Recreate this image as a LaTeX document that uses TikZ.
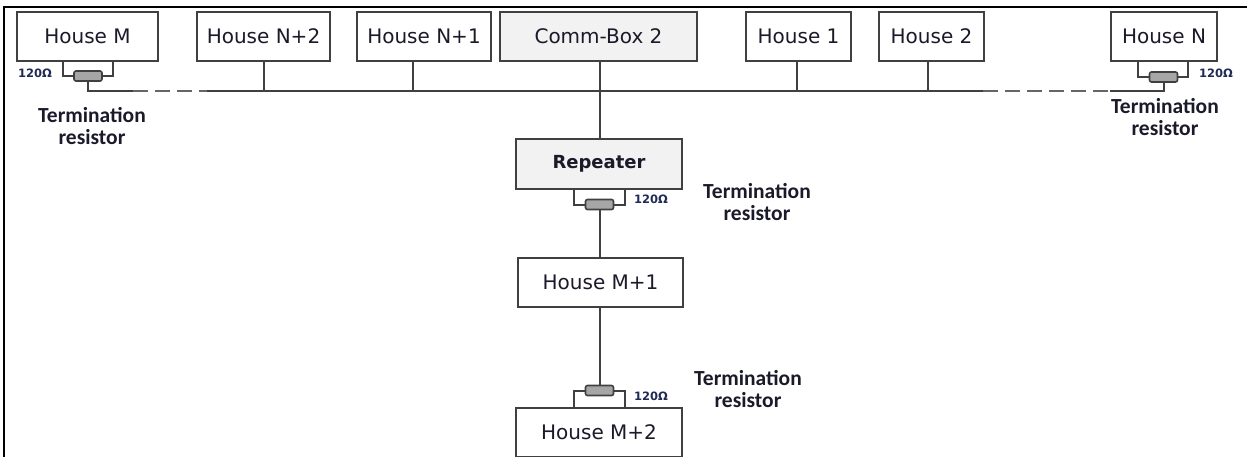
\documentclass[tikz,border=0pt]{standalone}
\usepackage{fontspec}
\setmainfont{DejaVu Sans}
\newfontfamily\labfont{Carlito}
\newfontfamily\ohmfont{DejaVu Sans}
\definecolor{edge}{HTML}{404040}
\definecolor{boxgray}{HTML}{F2F2F2}
\definecolor{resgray}{HTML}{A6A6A6}
\definecolor{txt}{HTML}{1A1A2A}
\definecolor{ohmblue}{HTML}{1F2A55}
\begin{document}
\begin{tikzpicture}[x=1pt,y=-1pt,
  house/.style={draw=edge,line width=2pt,fill=white,minimum height=49pt,inner sep=0pt,
     font=\fontsize{20}{22}\selectfont,text=txt},
  graybox/.style={house,fill=boxgray},
  wire/.style={draw=edge,line width=2pt},
  dwire/.style={draw=edge!80,line width=2pt,dash pattern=on 15pt off 7pt},
  resbox/.style={draw=edge,line width=1.6pt,fill=resgray,rounded corners=2pt,
     minimum width=28pt,minimum height=10pt,inner sep=0pt},
  ohm/.style={font=\ohmfont\bfseries\fontsize{11.5}{13}\selectfont,text=ohmblue,inner sep=0pt},
  term/.style={font=\labfont\bfseries\fontsize{21.5}{22}\selectfont,text=txt,align=center,inner sep=0pt}
]
\useasboundingbox (0,0) rectangle (1247,456);
% frame
\draw[black,line width=2.4pt] (4,460) -- (4,7) -- (1250,7);

% top row
\node[house,minimum width=141pt] (hm)  at (87.5,36.5) {House M};
\node[house,minimum width=133pt] (hn2) at (263.5,36.5) {House N+2};
\node[house,minimum width=134pt] (hn1) at (424,36.5) {House N+1};
\node[graybox,minimum width=197pt] (cb) at (598.5,36.5) {Comm-Box 2};
\node[house,minimum width=105pt] (h1) at (798.5,36.5) {House 1};
\node[house,minimum width=105pt] (h2) at (931.5,36.5) {House 2};
\node[house,minimum width=106pt] (hn) at (1164,36.5) {House N};

% column
\node[graybox,minimum width=166pt,minimum height=50pt,font=\bfseries\fontsize{18}{20}\selectfont] (rep) at (599,164) {Repeater};
\node[house,minimum width=165pt] (hm1) at (600.5,282.5) {House M+1};
\node[house,minimum width=166pt] (hm2) at (599,432.5) {House M+2};

% resistors
\node[resbox] (rm)  at (88,76) {};
\node[resbox] (rn)  at (1163.5,77) {};
\node[resbox] (rr)  at (599.5,204.5) {};
\node[resbox] (rm2) at (599.5,390.5) {};

% bus coordinates
\coordinate (b0) at (88,91);
\coordinate (b1) at (133,91);
\coordinate (b2) at (207,91);
\coordinate (b3) at (983,91);
\coordinate (b4) at (1110,91);
\coordinate (b5) at (1163.5,91);

% bus
\draw[wire] (rm.south) -- (b0) -- (b1);
\draw[dwire] (b1) -- (b2);
\draw[wire] (b2) -- (b3);
\draw[dwire] (b3) -- (b4);
\draw[wire] (b4) -- (b5) -- (rn.south);

% drops
\draw[wire] (hn2.south) -- (hn2.south |- b2);
\draw[wire] ([xshift=-11pt]hn1.south) -- ([xshift=-11pt]hn1.south |- b2);
\draw[wire] ([xshift=1.5pt]cb.south) -- ([xshift=1pt]rep.north);
\draw[wire] ([xshift=-1.5pt]h1.south) -- ([xshift=-1.5pt]h1.south |- b2);
\draw[wire] ([xshift=-3.5pt]h2.south) -- ([xshift=-3.5pt]h2.south |- b2);

% termination loops
\draw[wire] ([xshift=-24.5pt]hm.south) |- (rm.west);
\draw[wire] ([xshift=25.5pt]hm.south) |- (rm.east);
\draw[wire] ([xshift=-26pt]hn.south) |- (rn.west);
\draw[wire] ([xshift=24pt]hn.south) |- (rn.east);
\draw[wire] ([xshift=-25pt]rep.south) |- (rr.west);
\draw[wire] ([xshift=26pt]rep.south) |- (rr.east);
\draw[wire] ([xshift=-25pt]hm2.north) |- (rm2.west);
\draw[wire] ([xshift=26pt]hm2.north) |- (rm2.east);

% vertical chain
\draw[wire] (rr.south) -- (rr.south |- hm1.north);
\draw[wire] (hm1.south -| rm2.north) -- (rm2.north);

% labels
\node[ohm] (om)  at (35,73) {120Ω};
\node[ohm] (on)  at (1216,73) {120Ω};
\node[ohm] (or)  at (651,199) {120Ω};
\node[ohm] (om2) at (651,396) {120Ω};

\node[term] (tm)  at (92,126) {Termination\\resistor};
\node[term] (tn)  at (1165,117) {Termination\\resistor};
\node[term] (tr)  at (757,202) {Termination\\resistor};
\node[term] (tm2) at (748,389) {Termination\\resistor};
\end{tikzpicture}
\end{document}
